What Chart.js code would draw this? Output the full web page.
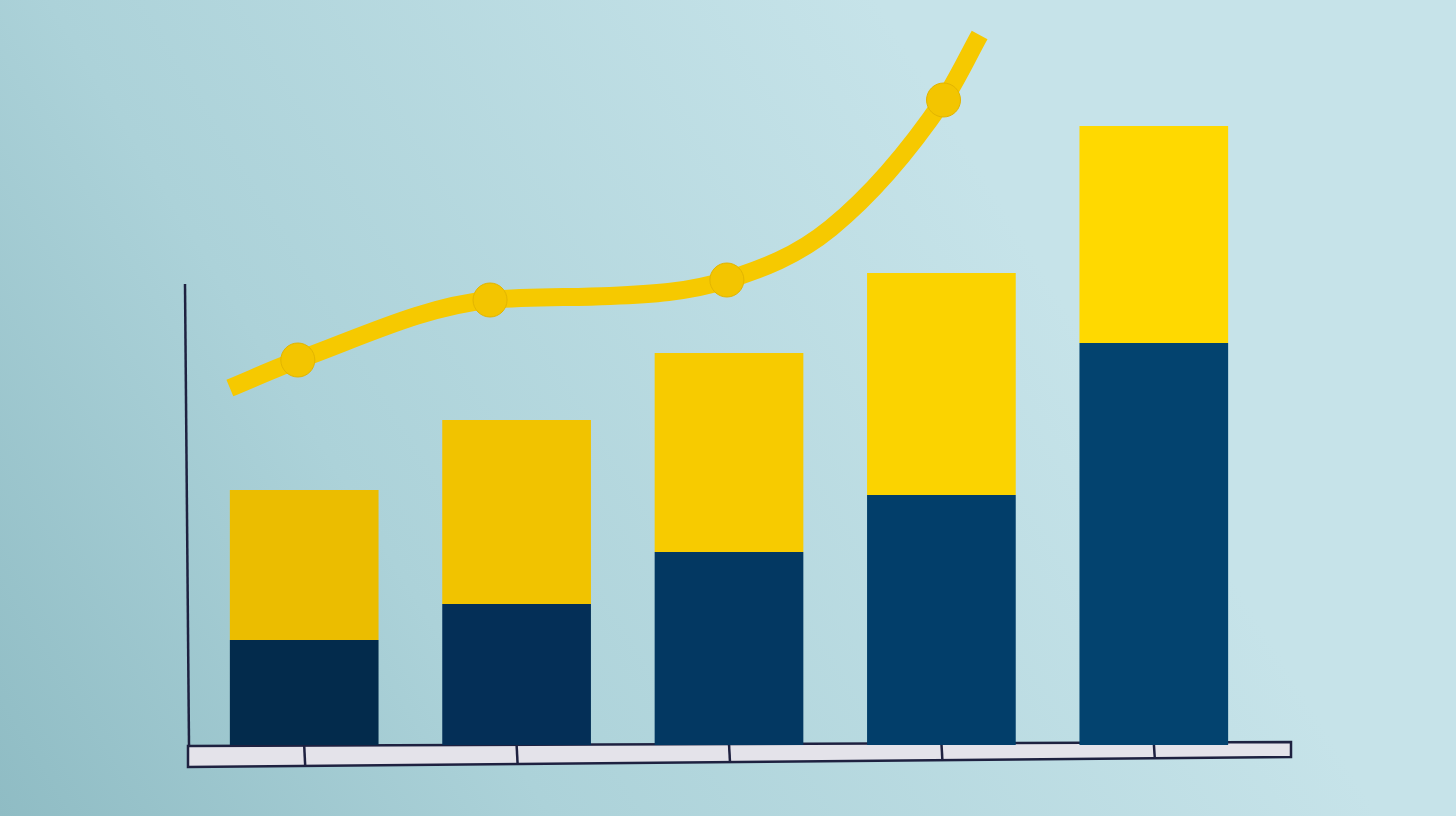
<!DOCTYPE html>
<html>
<head>
<meta charset="utf-8">
<script src="https://cdn.jsdelivr.net/npm/chart.js@4"></script>
<style>
  html, body { margin: 0; padding: 0; background: #b9dbe1; }
  #wrap { width: 1456px; height: 816px; }
</style>
</head>
<body>
<div id="wrap"><canvas id="growthChart" width="1456" height="816"></canvas></div>
<script>
// data (arbitrary units, 1 unit ~ 1px of height)
const categories = ['1', '2', '3', '4', '5'];
const baseValues = [105, 141, 193, 250, 402];
const topValues = [150, 184, 199, 222, 217];
const trendX = [-0.35, -0.03, 0.875, 1.44, 1.99, 2.48, 3.01, 3.18];
const trendY = [357, 385, 445, 449, 465, 517, 645, 710];
const trendDots = [0, 17, 17, 0, 17, 0, 17, 0];

const navyShades = ['#032b4c', '#042f57', '#033862', '#023e6a', '#03436f'];
const yellowShades = ['#ebbd00', '#f1c300', '#f7cb00', '#fbd300', '#ffd900'];

// background + axis strip
const paperPlugin = {
    id: 'paper',
    beforeDraw(chart) {
        const { ctx, width, height } = chart;
        const g = ctx.createLinearGradient(0, height, 1000, 200);
        g.addColorStop(0, '#8fbcc4');
        g.addColorStop(0.4, '#acd2d9');
        g.addColorStop(1, '#c6e3e9');
        ctx.save();
        ctx.fillStyle = g;
        ctx.fillRect(0, 0, width, height);
        ctx.restore();
    },
    beforeDatasetsDraw(chart) {
        const { ctx } = chart;
        const xs = chart.scales.x;
        ctx.save();
        // white strip of the x axis
        ctx.beginPath();
        ctx.moveTo(188, 746);
        ctx.lineTo(1291, 742);
        ctx.lineTo(1291, 757);
        ctx.lineTo(188, 767);
        ctx.closePath();
        ctx.fillStyle = '#e4e3ea';
        ctx.fill();
        ctx.strokeStyle = '#1e2140';
        ctx.lineWidth = 2.5;
        ctx.stroke();
        // tick marks at category centres
        xs.ticks.forEach((t, i) => {
            const px = xs.getPixelForTick(i);
            const yt = 746 - (px - 188) * 4 / 1103;
            const yb = 767 - (px - 188) * 10 / 1103;
            ctx.beginPath();
            ctx.moveTo(px, yt);
            ctx.lineTo(px + 1, yb);
            ctx.stroke();
        });
        // y axis line
        ctx.beginPath();
        ctx.moveTo(185, 284);
        ctx.lineTo(189, 746);
        ctx.stroke();
        ctx.restore();
    }
};

new Chart(document.getElementById('growthChart').getContext('2d'), {
    data: {
        labels: categories,
        datasets: [
            {
                type: 'bar',
                data: baseValues,
                backgroundColor: navyShades,
                stack: 'bars',
                grouped: false,
                xAxisID: 'x',
                order: 2
            },
            {
                type: 'bar',
                data: topValues,
                backgroundColor: yellowShades,
                stack: 'bars',
                grouped: false,
                xAxisID: 'x',
                order: 2
            },
            {
                type: 'line',
                data: trendX.map((x, i) => ({ x: x, y: trendY[i] })),
                xAxisID: 'x2',
                stack: 'line',
                borderColor: '#f6c900',
                borderWidth: 18,
                borderCapStyle: 'butt',
                tension: 0.4,
                cubicInterpolationMode: 'monotone',
                pointRadius: trendDots,
                pointBackgroundColor: '#f3c500',
                pointBorderColor: '#e2b500',
                pointBorderWidth: 1,
                order: 1
            }
        ]
    },
    options: {
        responsive: false,
        animation: false,
        layout: { padding: { left: 190, right: 196, top: 20, bottom: 63 } },
        datasets: { bar: { categoryPercentage: 1, barPercentage: 0.7 } },
        plugins: {
            legend: { display: false },
            tooltip: { enabled: false }
        },
        scales: {
            x: {
                stacked: true,
                offset: true,
                grid: { display: false },
                border: { display: false },
                ticks: { display: false }
            },
            x2: {
                type: 'linear',
                min: -0.5,
                max: 4.5,
                display: false
            },
            y: {
                stacked: true,
                min: 0,
                max: 725,
                grid: { display: false },
                border: { display: false },
                ticks: { display: false }
            }
        }
    },
    plugins: [paperPlugin]
});
</script>
</body>
</html>
